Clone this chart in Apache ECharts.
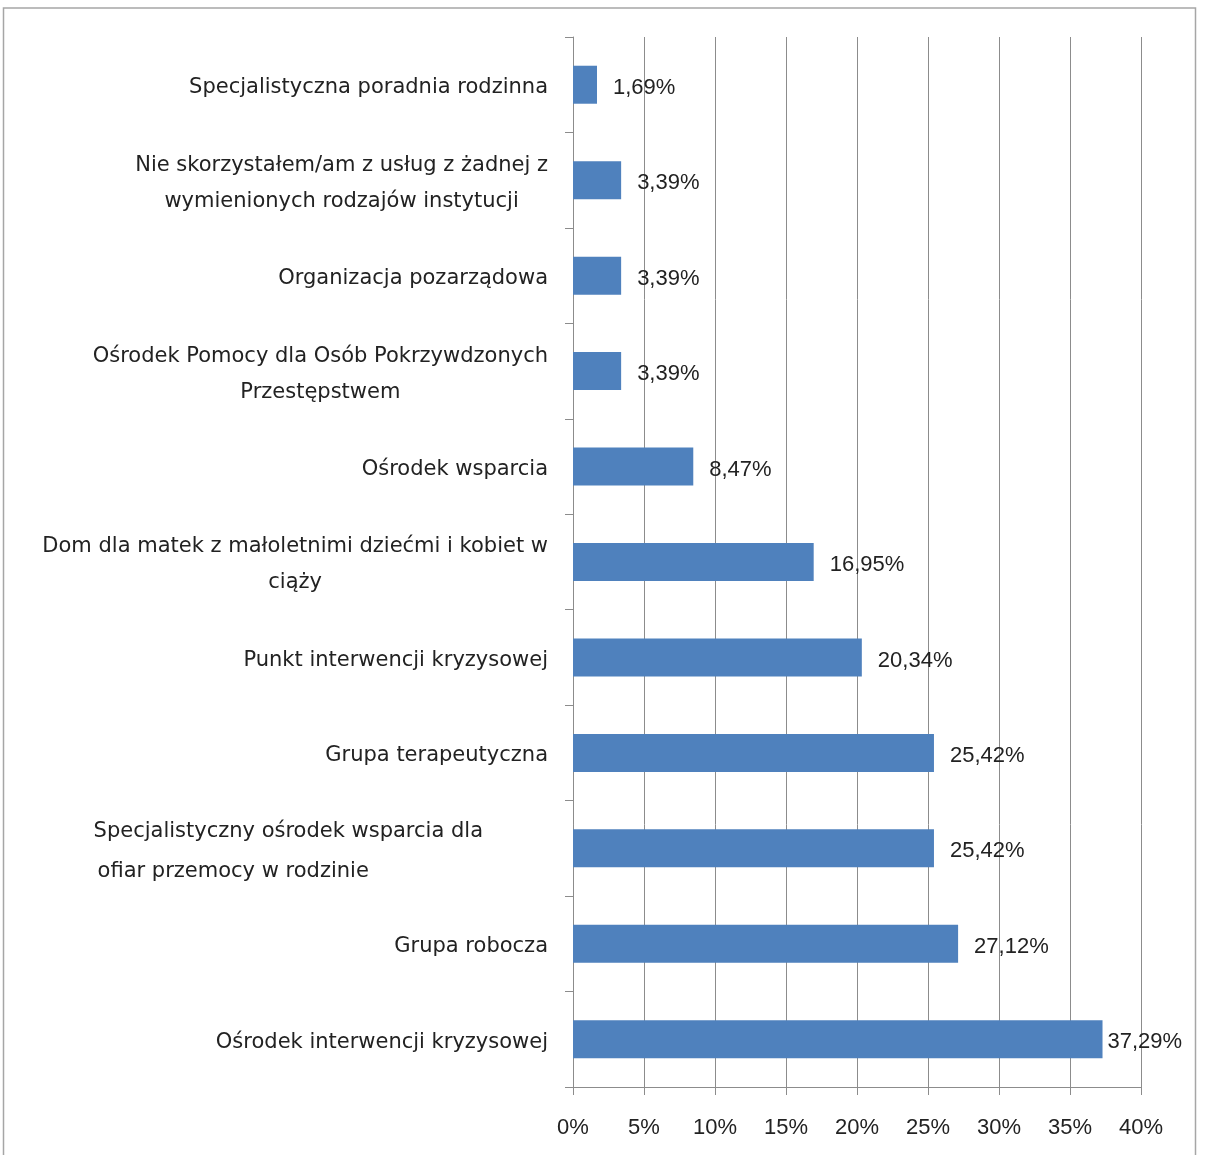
<!DOCTYPE html>
<html><head><meta charset="utf-8">
<script src="https://cdn.jsdelivr.net/npm/echarts@6/dist/echarts.min.js"></script>
<style>html,body{margin:0;padding:0;background:#fff}#c{width:1210px;height:1155px}</style>
</head><body><div id="c"></div>
<script>
// bottom to top
const categories = [
  "Ośrodek interwencji kryzysowej",
  "Grupa robocza",
  "Specjalistyczny ośrodek wsparcia dla\nofiar przemocy w rodzinie",
  "Grupa terapeutyczna",
  "Punkt interwencji kryzysowej",
  "Dom dla matek z małoletnimi dziećmi i kobiet w\nciąży",
  "Ośrodek wsparcia",
  "Ośrodek Pomocy dla Osób Pokrzywdzonych\nPrzestępstwem",
  "Organizacja pozarządowa",
  "Nie skorzystałem/am z usług z żadnej z\nwymienionych rodzajów instytucji",
  "Specjalistyczna poradnia rodzinna"
];
const values = [37.29, 27.12, 25.42, 25.42, 20.34, 16.95, 8.47, 3.39, 3.39, 3.39, 1.69];
const leftAlignedLabels = ["Specjalistyczny ośrodek wsparcia dla\nofiar przemocy w rodzinie"];

const CAT_FONT = '"DejaVu Sans", sans-serif';
const NUM_FONT = '"Liberation Sans", Arial, sans-serif';
const maxVal = Math.max(...values);
const seriesData = values.map(v => v === maxVal ? {value: v, label: {distance: 5}} : v);

const chart = echarts.init(document.getElementById('c'), null, {renderer: 'canvas'});
chart.setOption({
  animation: false,
  backgroundColor: '#fff',
  textStyle: {fontFamily: NUM_FONT},
  graphic: [{
    type: 'rect', shape: {x: 3.5, y: 8, width: 1192, height: 1160},
    style: {fill: 'none', stroke: '#a6a6a6', lineWidth: 1.5}, z: 100
  }],
  grid: {left: 573, right: 69, top: 37, bottom: 68, containLabel: false},
  xAxis: {
    type: 'value', min: 0, max: 40, interval: 5,
    axisLine: {show: true, lineStyle: {color: '#8c8c8c', width: 1}},
    axisTick: {show: true, length: 8, lineStyle: {color: '#8c8c8c'}},
    splitLine: {show: true, lineStyle: {color: '#8c8c8c', width: 1}},
    axisLabel: {margin: 30, fontSize: 22, color: '#222', fontFamily: NUM_FONT, formatter: v => v + '%'}
  },
  yAxis: {
    type: 'category', data: categories,
    axisLine: {show: true, lineStyle: {color: '#8c8c8c'}},
    axisTick: {show: true, length: 8, lineStyle: {color: '#8c8c8c'}},
    axisLabel: {
      margin: 25, fontSize: 21, color: '#222', fontFamily: CAT_FONT,
      formatter: function (v) {
        const lines = v.split('\n');
        if (leftAlignedLabels.includes(v)) {
          return '{l1|' + lines[0] + '}\n{l|' + lines[1] + '}';
        }
        return lines.map(s => '{c|' + s + '}').join('\n');
      },
      rich: {
        c: {align: 'center', fontSize: 21, lineHeight: 36, color: '#222', fontFamily: CAT_FONT, padding: [6, 0, 0, 0]},
        l1: {align: 'left', fontSize: 21, lineHeight: 40, color: '#222', fontFamily: CAT_FONT, padding: [6, 65, 0, 0]},
        l: {align: 'left', fontSize: 21, lineHeight: 40, color: '#222', fontFamily: CAT_FONT, padding: [6, 0, 0, 4]}
      }
    }
  },
  series: [{
    type: 'bar', data: seriesData, barWidth: 38,
    itemStyle: {color: '#4f81bd'},
    label: {
      show: true, position: 'right', distance: 16, offset: [0, 3], fontSize: 22, color: '#222', fontFamily: NUM_FONT,
      formatter: p => p.value.toFixed(2).replace('.', ',') + '%'
    }
  }]
});
</script></body></html>
